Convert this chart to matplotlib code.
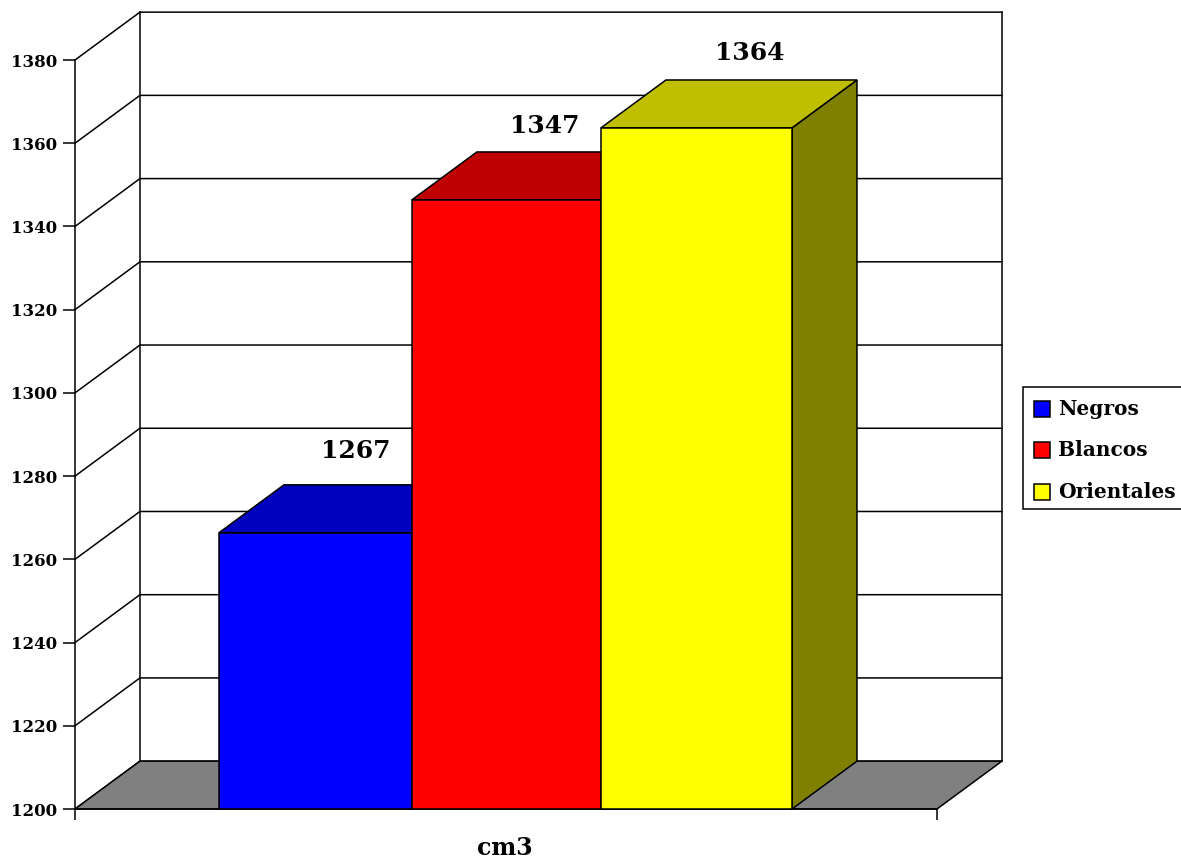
import matplotlib
matplotlib.use("Agg")
import matplotlib.pyplot as plt
from matplotlib.patches import Polygon, Rectangle

plt.rcParams['font.family'] = ['DejaVu Serif', 'Liberation Serif']
plt.rcParams['font.weight'] = 'bold'

categories = ['Negros', 'Blancos', 'Orientales']
value_labels = ['1267', '1347', '1364']
values = [1266.4, 1346.4, 1363.7]
front_colors = ['#0000ff', '#ff0000', '#ffff00']
top_colors = ['#0000bf', '#bf0000', '#bfbf00']
side_colors = ['#00007f', '#7f0000', '#7f7f00']
yticks = list(range(1200, 1381, 20))
xlabel = 'cm3'

# bar edges on the x axis, the bars are not quite the same width
edges = [-0.5, 0.51, 1.5, 2.5]
label_dx = [0.21, 0.2, 0.28]
label_dy = [19.6, 17.7, 18.0]

W, H = 1181, 861
fig = plt.figure(figsize=(W / 100, H / 100), dpi=100)
ax = fig.add_axes([75 / W, 1 - 809 / H, 862 / W, 749 / H])
ax.set_xlim(-1.254, 3.259)
ax.set_ylim(1200, 1380)
ax.patch.set_visible(False)
for s in ['top', 'right']:
    ax.spines[s].set_visible(False)

# depth of the fake 3d box, in data units
dx = 0.34
dy = 11.5
x0, x1 = ax.get_xlim()
y0, y1 = ax.get_ylim()


def poly(pts, fc, z=2, lw=1.1):
    ax.add_patch(Polygon(pts, closed=True, fc=fc, ec='black', lw=lw, zorder=z, clip_on=False))


# floor and walls
poly([(x0, y0), (x1, y0), (x1 + dx, y0 + dy), (x0 + dx, y0 + dy)], '#808080')
for t in yticks:
    ax.plot([x0, x0 + dx, x1 + dx], [t, t + dy, t + dy], color='black', lw=1.1,
            zorder=1, clip_on=False)
ax.plot([x0 + dx, x0 + dx], [y0 + dy, y1 + dy], color='black', lw=1.1, zorder=1, clip_on=False)
ax.plot([x1 + dx, x1 + dx], [y0 + dy, y1 + dy], color='black', lw=1.1, zorder=1, clip_on=False)

# bars, later bars hide the side of the one before
for i, v in enumerate(values):
    left, right = edges[i], edges[i + 1]
    poly([(right, y0), (right + dx, y0 + dy), (right + dx, v + dy), (right, v)], side_colors[i], 3 + i)
    poly([(left, v), (right, v), (right + dx, v + dy), (left + dx, v + dy)], top_colors[i], 3 + i)
    ax.add_patch(Rectangle((left, y0), right - left, v - y0, fc=front_colors[i], ec='black', lw=1.1,
                           zorder=3 + i, clip_on=False))
    ax.text((left + right) / 2 + label_dx[i], v + label_dy[i], value_labels[i], fontsize=18,
            ha='center', va='center', zorder=10, clip_on=False)

ax.set_yticks(yticks)
ax.set_xticks([x0, x1])
ax.set_xticklabels(['', ''])
ax.tick_params(axis='y', labelsize=12, length=8.6, width=1.1, pad=4)
ax.tick_params(axis='x', length=8, width=1.1)
for s in ['left', 'bottom']:
    ax.spines[s].set_linewidth(1.1)
fig.text(505 / W, 1 - 855 / H, xlabel, fontsize=17, ha='center', va='baseline')

# legend box runs off the right edge in the original
fig.add_artist(Rectangle((1023 / W, 1 - 509 / H), 170 / W, 122 / H, fc='white', ec='black',
                         lw=1.1, transform=fig.transFigure))
for i, name in enumerate(categories):
    yc = 409 + i * 41.5
    fig.add_artist(Rectangle((1034 / W, 1 - (yc + 8) / H), 16 / W, 16 / H, fc=front_colors[i],
                             ec='black', lw=1.1, transform=fig.transFigure))
    fig.text(1058 / W, 1 - yc / H, name, fontsize=14.5, va='center', ha='left')

fig.savefig('out.png', dpi=100)
